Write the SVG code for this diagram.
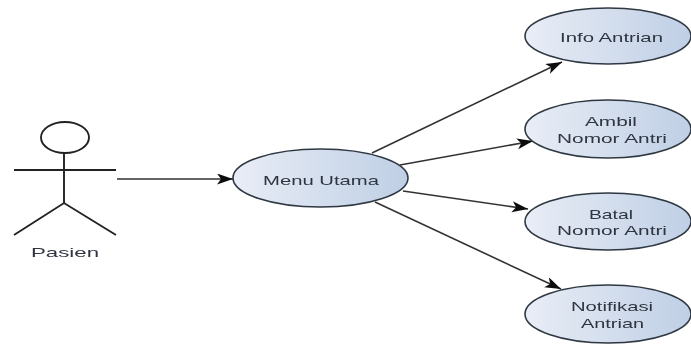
<svg xmlns="http://www.w3.org/2000/svg" width="691" height="344" viewBox="0 0 691 344">
<style>
.uc{fill:url(#g);stroke:#2f3842;stroke-width:1.6}
.t{font-family:"Liberation Sans",Arial,sans-serif;font-size:13.5px;fill:#2f3640;text-anchor:middle}
.c{fill:none;stroke:#333333;stroke-width:1.6;marker-end:url(#a)}
.s{fill:none;stroke:#222222;stroke-width:1.9}
.b{filter:url(#f)}
</style>
<defs>
<filter id="f" x="-5%" y="-5%" width="110%" height="110%"><feGaussianBlur stdDeviation="0.35"/></filter>
<linearGradient id="g" x1="0" x2="1" y1="0" y2="0"><stop offset="0" stop-color="#e9edf6"/><stop offset="1" stop-color="#bfcfe5"/></linearGradient>
<marker id="a" markerUnits="userSpaceOnUse" markerWidth="18" markerHeight="12" refX="16" refY="5.5" orient="auto"><path d="M0 0L16 5.5L0 11L4 5.5Z" fill="#111111"/></marker>
</defs>
<rect width="691" height="344" fill="#ffffff"/>
<g id="connectors" class="b">
<path class="c" d="M117 179H233"/>
<path class="c" d="M372 153L562 62"/>
<path class="c" d="M400 165L533 141"/>
<path class="c" d="M403 191L528 209"/>
<path class="c" d="M375 202L561 289"/>
</g>
<g id="actor-pasien" class="b">
<ellipse class="s" cx="65" cy="137.5" rx="24" ry="15.5"/>
<path class="s" d="M64 153V203M14 170H116M14 235L64 203L116 235"/>
<text class="t" x="65" y="257" textLength="68" lengthAdjust="spacingAndGlyphs">Pasien</text>
</g>
<g id="menu-utama" class="b">
<ellipse class="uc" cx="320.5" cy="178" rx="87.5" ry="29"/>
<text class="t" x="321" y="185" textLength="116" lengthAdjust="spacingAndGlyphs">Menu Utama</text>
</g>
<g id="info-antrian" class="b">
<ellipse class="uc" cx="608" cy="36" rx="83" ry="28"/>
<text class="t" x="611.5" y="41.5" textLength="103" lengthAdjust="spacingAndGlyphs">Info Antrian</text>
</g>
<g id="ambil-nomor-antri" class="b">
<ellipse class="uc" cx="608" cy="129" rx="83" ry="29"/>
<text class="t" x="611" y="125.5" textLength="52" lengthAdjust="spacingAndGlyphs">Ambil</text>
<text class="t" x="612" y="143" textLength="110" lengthAdjust="spacingAndGlyphs">Nomor Antri</text>
</g>
<g id="batal-nomor-antri" class="b">
<ellipse class="uc" cx="608" cy="221.5" rx="83" ry="28.5"/>
<text class="t" x="611" y="219" textLength="44" lengthAdjust="spacingAndGlyphs">Batal</text>
<text class="t" x="612" y="235" textLength="110" lengthAdjust="spacingAndGlyphs">Nomor Antri</text>
</g>
<g id="notifikasi-antrian" class="b">
<ellipse class="uc" cx="608" cy="314" rx="83" ry="29"/>
<text class="t" x="612" y="311" textLength="82" lengthAdjust="spacingAndGlyphs">Notifikasi</text>
<text class="t" x="612.5" y="328" textLength="63" lengthAdjust="spacingAndGlyphs">Antrian</text>
</g>
</svg>
